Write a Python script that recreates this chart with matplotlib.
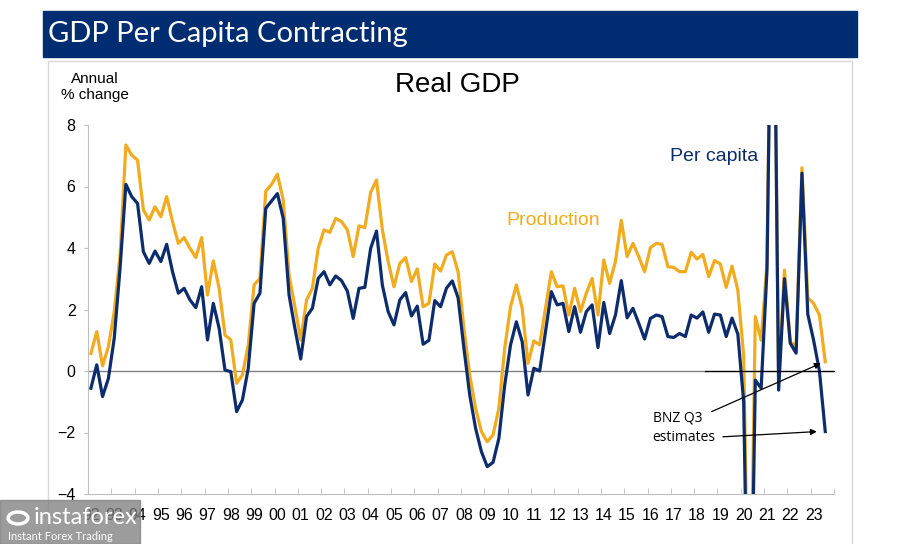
import numpy as np
import matplotlib
matplotlib.use("Agg")
import matplotlib.pyplot as plt
from matplotlib.patches import Rectangle, Circle
from matplotlib import font_manager

# Real GDP, annual % change, quarterly 1992 Q1 - 2023 Q3 (last point = BNZ Q3 estimate)
production = [
    0.57, 1.28, 0.17, 0.79, 1.93, 3.77, 7.35, 7.02, 6.86, 5.24,
    4.91, 5.34, 5.02, 5.67, 4.86, 4.15, 4.34, 3.99, 3.69, 4.34,
    2.47, 3.58, 2.69, 1.17, 1.01, -0.40, -0.13, 0.85, 2.80, 3.01,
    5.85, 6.07, 6.40, 5.56, 3.12, 2.09, 1.01, 2.31, 2.69, 3.99,
    4.59, 4.51, 4.96, 4.86, 4.59, 3.72, 4.72, 4.66, 5.81, 6.21,
    4.60, 3.56, 2.74, 3.50, 3.69, 2.91, 3.32, 2.09, 2.20, 3.48,
    3.25, 3.77, 3.88, 3.23, 1.39, -0.13, -1.21, -1.97, -2.30, -2.08,
    -1.21, 0.74, 2.09, 2.80, 2.04, 0.25, 0.98, 0.85, 2.04, 3.23,
    2.74, 2.77, 1.82, 2.69, 1.93, 2.53, 3.01, 1.82, 3.61, 2.85,
    3.56, 4.90, 3.72, 4.15, 3.72, 3.23, 4.01, 4.15, 4.12, 3.39,
    3.37, 3.23, 3.23, 3.86, 3.64, 3.79, 3.07, 3.59, 3.48, 2.72,
    3.41, 2.63, 0.50, -10.3, 1.77, 1.00, 3.50, 17.4, -0.30, 3.28,
    0.95, 0.80, 6.61, 2.38, 2.20, 1.82, 0.30,
]
per_capita = [
    -0.56, 0.20, -0.83, -0.24, 1.06, 3.34, 6.07, 5.67, 5.45, 3.88,
    3.50, 3.90, 3.56, 4.12, 3.23, 2.53, 2.69, 2.31, 2.06, 2.74,
    1.01, 2.20, 1.39, 0.03, -0.02, -1.32, -0.94, 0.09, 2.20, 2.53,
    5.29, 5.53, 5.77, 4.96, 2.47, 1.39, 0.39, 1.77, 2.04, 3.01,
    3.23, 2.80, 3.09, 2.94, 2.60, 1.71, 2.69, 2.72, 3.99, 4.55,
    2.80, 1.93, 1.50, 2.31, 2.55, 1.79, 2.11, 0.87, 1.00, 2.29,
    2.09, 2.69, 2.93, 2.38, 0.74, -0.78, -1.86, -2.62, -3.11, -2.97,
    -2.19, -0.46, 0.85, 1.60, 0.95, -0.78, 0.09, 0.00, 1.28, 2.58,
    2.15, 2.20, 1.28, 2.09, 1.26, 1.93, 2.15, 0.76, 2.23, 1.22,
    1.82, 2.94, 1.73, 2.04, 1.55, 1.04, 1.71, 1.82, 1.77, 1.12,
    1.09, 1.22, 1.12, 1.82, 1.72, 1.92, 1.26, 1.85, 1.82, 1.12,
    1.72, 1.20, -1.00, -12.0, -0.30, -0.56, 3.28, 17.0, -0.62, 3.00,
    0.90, 0.58, 6.43, 1.85, 1.00, 0.00, -1.97,
]
year_labels = ['92', '93', '94', '95', '96', '97', '98', '99', '00', '01',
               '02', '03', '04', '05', '06', '07', '08', '09', '10', '11',
               '12', '13', '14', '15', '16', '17', '18', '19', '20', '21',
               '22', '23']
first_year = 1992

gold = '#F0AB1E'
navy = '#0C2C6C'
bar_blue = '#002D72'

installed = {f.name for f in font_manager.fontManager.ttflist}
narrow = 'Liberation Sans Narrow' if 'Liberation Sans Narrow' in installed else 'Lato'
plt.rcParams['font.family'] = ['Liberation Sans', 'DejaVu Sans']

W, H = 897, 544
fig = plt.figure(figsize=(W / 100, H / 100), dpi=100)


def fx(px):
    return px / W


def fy(py):
    return 1 - py / H


# title bar and panel frame
fig.patches.append(Rectangle((fx(43), fy(57)), fx(857) - fx(43), fy(11) - fy(57),
                             transform=fig.transFigure, color=bar_blue, zorder=0))
fig.text(fx(48), fy(34), 'GDP Per Capita Contracting', color='white', fontsize=21,
         family=narrow, ha='left', va='center')
fig.patches.append(Rectangle((fx(48), fy(548)), fx(852) - fx(48), fy(61) - fy(548),
                             transform=fig.transFigure, fill=False,
                             edgecolor='#d9d9d9', lw=1, zorder=0))

ax = fig.add_axes([fx(88), fy(494), fx(834) - fx(88), fy(125) - fy(494)])
x = first_year + np.arange(len(production)) / 4

ax.axhline(0, color='#808080', lw=1, zorder=1)
ax.plot(x, production, color=gold, lw=2.3, zorder=2)
ax.plot(x, per_capita, color=navy, lw=2.3, zorder=3)
ax.plot([2018.34, 2023.87], [0, 0], color='black', lw=0.9, zorder=4, clip_on=False)

ax.set_xlim(first_year - 0.125, first_year + len(year_labels) - 0.375)
ax.set_ylim(-4, 8)
for side in ['top', 'right']:
    ax.spines[side].set_visible(False)
for side in ['left', 'bottom']:
    ax.spines[side].set_color('#bfbfbf')

ax.set_yticks(range(-4, 9, 2))
ax.tick_params(axis='y', length=3, color='#bfbfbf', labelsize=11.5, pad=6)
ax.set_xticks(first_year + np.arange(len(year_labels)))
ax.set_xticklabels(year_labels)
ax.set_xticks(first_year - 0.125 + np.arange(len(year_labels) + 1), minor=True)
ax.tick_params(axis='x', which='major', length=0, labelsize=11.5, pad=10)
ax.tick_params(axis='x', which='minor', length=4, direction='in', color='#bfbfbf')

fig.text(fx(95), fy(87), 'Annual\n% change', fontsize=11, ha='center', va='center',
         linespacing=1.15)
fig.text(fx(457), fy(85), 'Real GDP', fontsize=20, ha='center', va='center')

ax.text(2009.83, 4.88, 'Production', color=gold, fontsize=14, ha='left', va='center')
ax.text(2016.85, 6.99, 'Per capita', color=navy, fontsize=14, ha='left', va='center')

ax.text(2016.09, -1.84, 'BNZ Q3\nestimates', fontsize=10, family='Open Sans',
        ha='left', va='center', linespacing=1.35)
arrow = dict(arrowstyle='-|>', color='black', lw=0.9, mutation_scale=9,
             shrinkA=0, shrinkB=0)
ax.annotate('', xy=(2023.31, 0.25), xytext=(2018.63, -1.32), arrowprops=arrow,
            annotation_clip=False)
ax.annotate('', xy=(2023.14, -1.97), xytext=(2019.11, -2.14), arrowprops=arrow,
            annotation_clip=False)

# watermark box bottom-left (semi-transparent, year labels show through)
fig.patches.append(Rectangle((0, 0), fx(140), fy(500), transform=fig.transFigure,
                             color='#808080', alpha=0.78, zorder=10))
fig.patches.append(Circle((fx(18), fy(518)), 0.011, transform=fig.transFigure,
                          fill=False, edgecolor='white', lw=2.5, zorder=11))
fig.text(fx(34), fy(518), 'instaforex', color='white', fontsize=17, family='Lato',
         ha='left', va='center', zorder=12)
fig.text(fx(8), fy(536), 'Instant Forex Trading', color='white', fontsize=8,
         family='Lato', ha='left', va='center', zorder=12)

fig.savefig('out.png', dpi=100)
